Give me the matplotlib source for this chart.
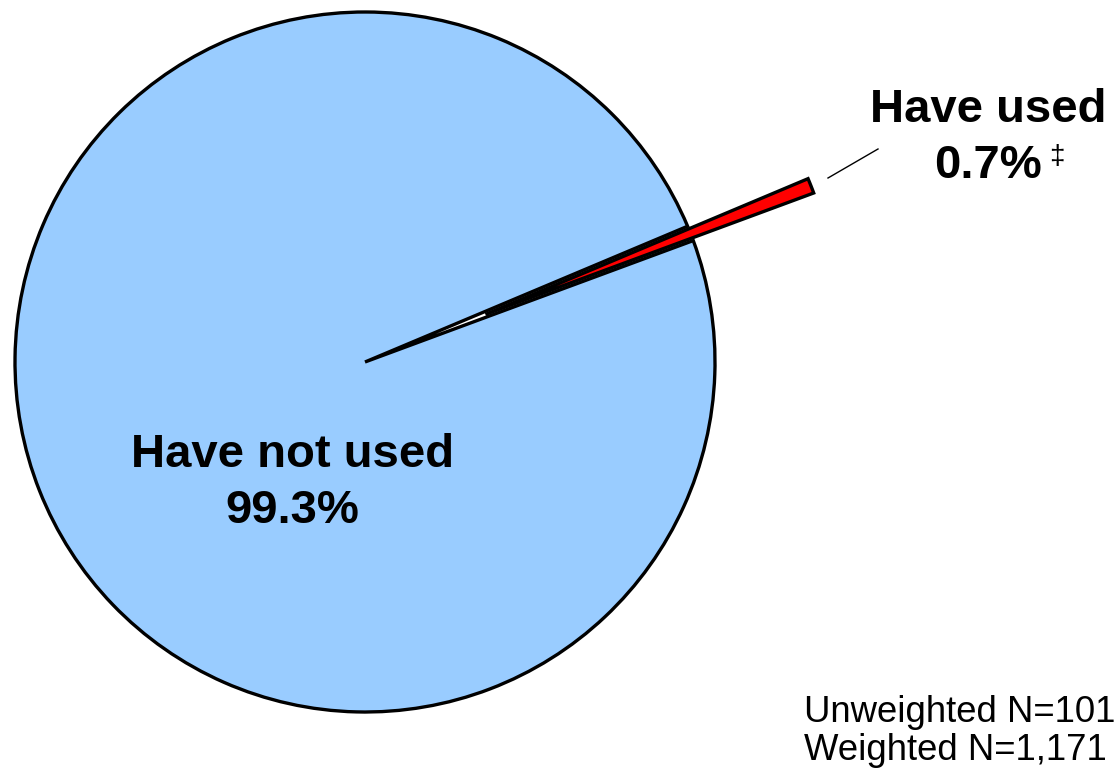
import matplotlib
matplotlib.use("Agg")
import matplotlib.pyplot as plt

# Data
categories = ["Have used", "Have not used"]
values = [0.7, 99.3]
value_labels = ["0.7%", "99.3%"]
note_lines = ["Unweighted N=101", "Weighted N=1,171"]

plt.rcParams['font.family'] = ['Liberation Sans', 'DejaVu Sans']

W, H = 1116, 772
fig = plt.figure(figsize=(W / 100, H / 100), dpi=100)
ax = fig.add_axes([0, 0, 1, 1])

cx, cy, R = 365, 362, 350  # pie centre and radius in pixels

ax.pie(values, colors=["#FF0000", "#99CCFF"], startangle=20.3, counterclock=True,
       explode=[0.37, 0], radius=1,
       wedgeprops=dict(edgecolor="black", linewidth=2.4))
ax.set_xlim(-cx / R, (W - cx) / R)
ax.set_ylim(-(H - cy) / R, cy / R)
ax.set_aspect('auto')
ax.axis('off')


def fx(px):
    return px / W


def fy(py):
    return 1 - py / H


# Labels
fig.text(fx(292.5), fy(467), categories[1], ha='center', va='baseline',
         fontsize=34, fontweight='bold')
fig.text(fx(292.5), fy(523), value_labels[1], ha='center', va='baseline',
         fontsize=34, fontweight='bold')

fig.text(fx(988), fy(122), categories[0], ha='center', va='baseline',
         fontsize=34, fontweight='bold')
fig.text(fx(988.5), fy(178), value_labels[0], ha='center', va='baseline',
         fontsize=34, fontweight='bold')
fig.text(fx(1049), fy(164), "\u2021", ha='left', va='baseline', fontsize=20)

# leader line
fig.add_artist(plt.Line2D([fx(828), fx(878)], [fy(178), fy(149)],
                          color='black', linewidth=1.0))

# Notes
fig.text(fx(804), fy(722), note_lines[0], ha='left', va='baseline', fontsize=26.3)
fig.text(fx(804), fy(760), note_lines[1], ha='left', va='baseline', fontsize=26.3)

fig.savefig("out.png", dpi=100)
